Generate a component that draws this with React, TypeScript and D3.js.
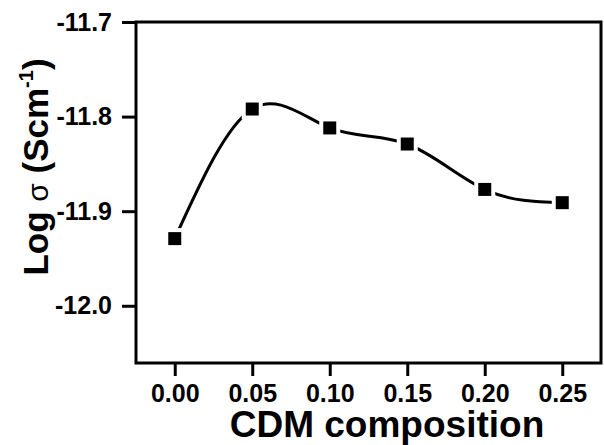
import React, { useRef, useEffect } from 'react';
import * as d3 from 'd3';

const composition = [0.0, 0.05, 0.1, 0.15, 0.2, 0.25];
const logSigma = [-11.929, -11.792, -11.812, -11.829, -11.877, -11.891];
const xTicks = [0.0, 0.05, 0.1, 0.15, 0.2, 0.25];
const yTicks = [-11.7, -11.8, -11.9, -12.0];

const App = () => {
  const svgRef = useRef(null);

  useEffect(() => {
    const width = 604;
    const height = 445;
    const margin = { top: 22, right: 3, bottom: 82, left: 136 };
    const font = "'Liberation Sans', Arial, sans-serif";

    d3.select(svgRef.current).selectAll('*').remove();

    const svg = d3
      .select(svgRef.current)
      .attr('width', width)
      .attr('height', height);

    const xScale = d3
      .scaleLinear()
      .domain([-0.025, 0.275])
      .range([margin.left, width - margin.right]);

    const yScale = d3
      .scaleLinear()
      .domain([-12.0605, -11.7])
      .range([height - margin.bottom, margin.top]);

    const data = composition.map((c, i) => ({ x: c, y: logSigma[i] }));

    // frame
    svg.append('rect')
      .attr('x', margin.left)
      .attr('y', margin.top)
      .attr('width', width - margin.right - margin.left)
      .attr('height', height - margin.bottom - margin.top)
      .attr('fill', 'none')
      .attr('stroke', '#000')
      .attr('stroke-width', 3);

    // x axis
    svg.append('g')
      .attr('transform', `translate(0,${height - margin.bottom})`)
      .call(d3.axisBottom(xScale).tickValues(xTicks).tickSize(13).tickPadding(8).tickFormat(d => d.toFixed(2)))
      .call(g => g.select('.domain').remove())
      .call(g => g.selectAll('line').attr('stroke-width', 3))
      .call(g => g.selectAll('text')
        .attr('font-family', font)
        .attr('font-size', 25)
        .attr('font-weight', 'bold')
        .attr('fill', '#000'));

    // y axis
    svg.append('g')
      .attr('transform', `translate(${margin.left},0)`)
      .call(d3.axisLeft(yScale).tickValues(yTicks).tickSize(14).tickPadding(10).tickFormat(d => d.toFixed(1)))
      .call(g => g.select('.domain').remove())
      .call(g => g.selectAll('line').attr('stroke-width', 3))
      .call(g => g.selectAll('text')
        .attr('font-family', font)
        .attr('font-size', 25)
        .attr('font-weight', 'bold')
        .attr('fill', '#000'));

    // curve
    const line = d3
      .line()
      .x(d => xScale(d.x))
      .y(d => yScale(d.y))
      .curve(d3.curveNatural);

    svg.append('path')
      .datum(data)
      .attr('fill', 'none')
      .attr('stroke', '#000')
      .attr('stroke-width', 3)
      .attr('d', line);

    // markers with white gap around them
    const ms = 13;
    svg.selectAll('.gap')
      .data(data)
      .enter()
      .append('rect')
      .attr('x', d => xScale(d.x) - ms / 2 - 4)
      .attr('y', d => yScale(d.y) - ms / 2 - 4)
      .attr('width', ms + 8)
      .attr('height', ms + 8)
      .attr('fill', '#fff');

    svg.selectAll('.marker')
      .data(data)
      .enter()
      .append('rect')
      .attr('x', d => xScale(d.x) - ms / 2)
      .attr('y', d => yScale(d.y) - ms / 2)
      .attr('width', ms)
      .attr('height', ms)
      .attr('fill', '#000');

    // X-axis label
    svg.append('text')
      .attr('x', 387)
      .attr('y', 437)
      .attr('text-anchor', 'middle')
      .attr('font-family', font)
      .attr('font-size', 37)
      .attr('font-weight', 'bold')
      .text('CDM composition');

    // Y-axis label
    const yl = svg.append('text')
      .attr('transform', 'translate(48,167) rotate(-90)')
      .attr('text-anchor', 'middle')
      .attr('font-family', font)
      .attr('font-size', 35)
      .attr('font-weight', 'bold');
    yl.append('tspan').text('Log ');
    yl.append('tspan').attr('font-weight', 'normal').attr('font-size', 30).text('σ');
    yl.append('tspan').text(' (Scm');
    yl.append('tspan').attr('font-size', 20).attr('dy', -15).text('-1');
    yl.append('tspan').attr('dy', 15).text(')');
  }, []);

  return <svg ref={svgRef} style={{ position: 'absolute', left: 0, top: 0 }}></svg>;
};

export default App;
